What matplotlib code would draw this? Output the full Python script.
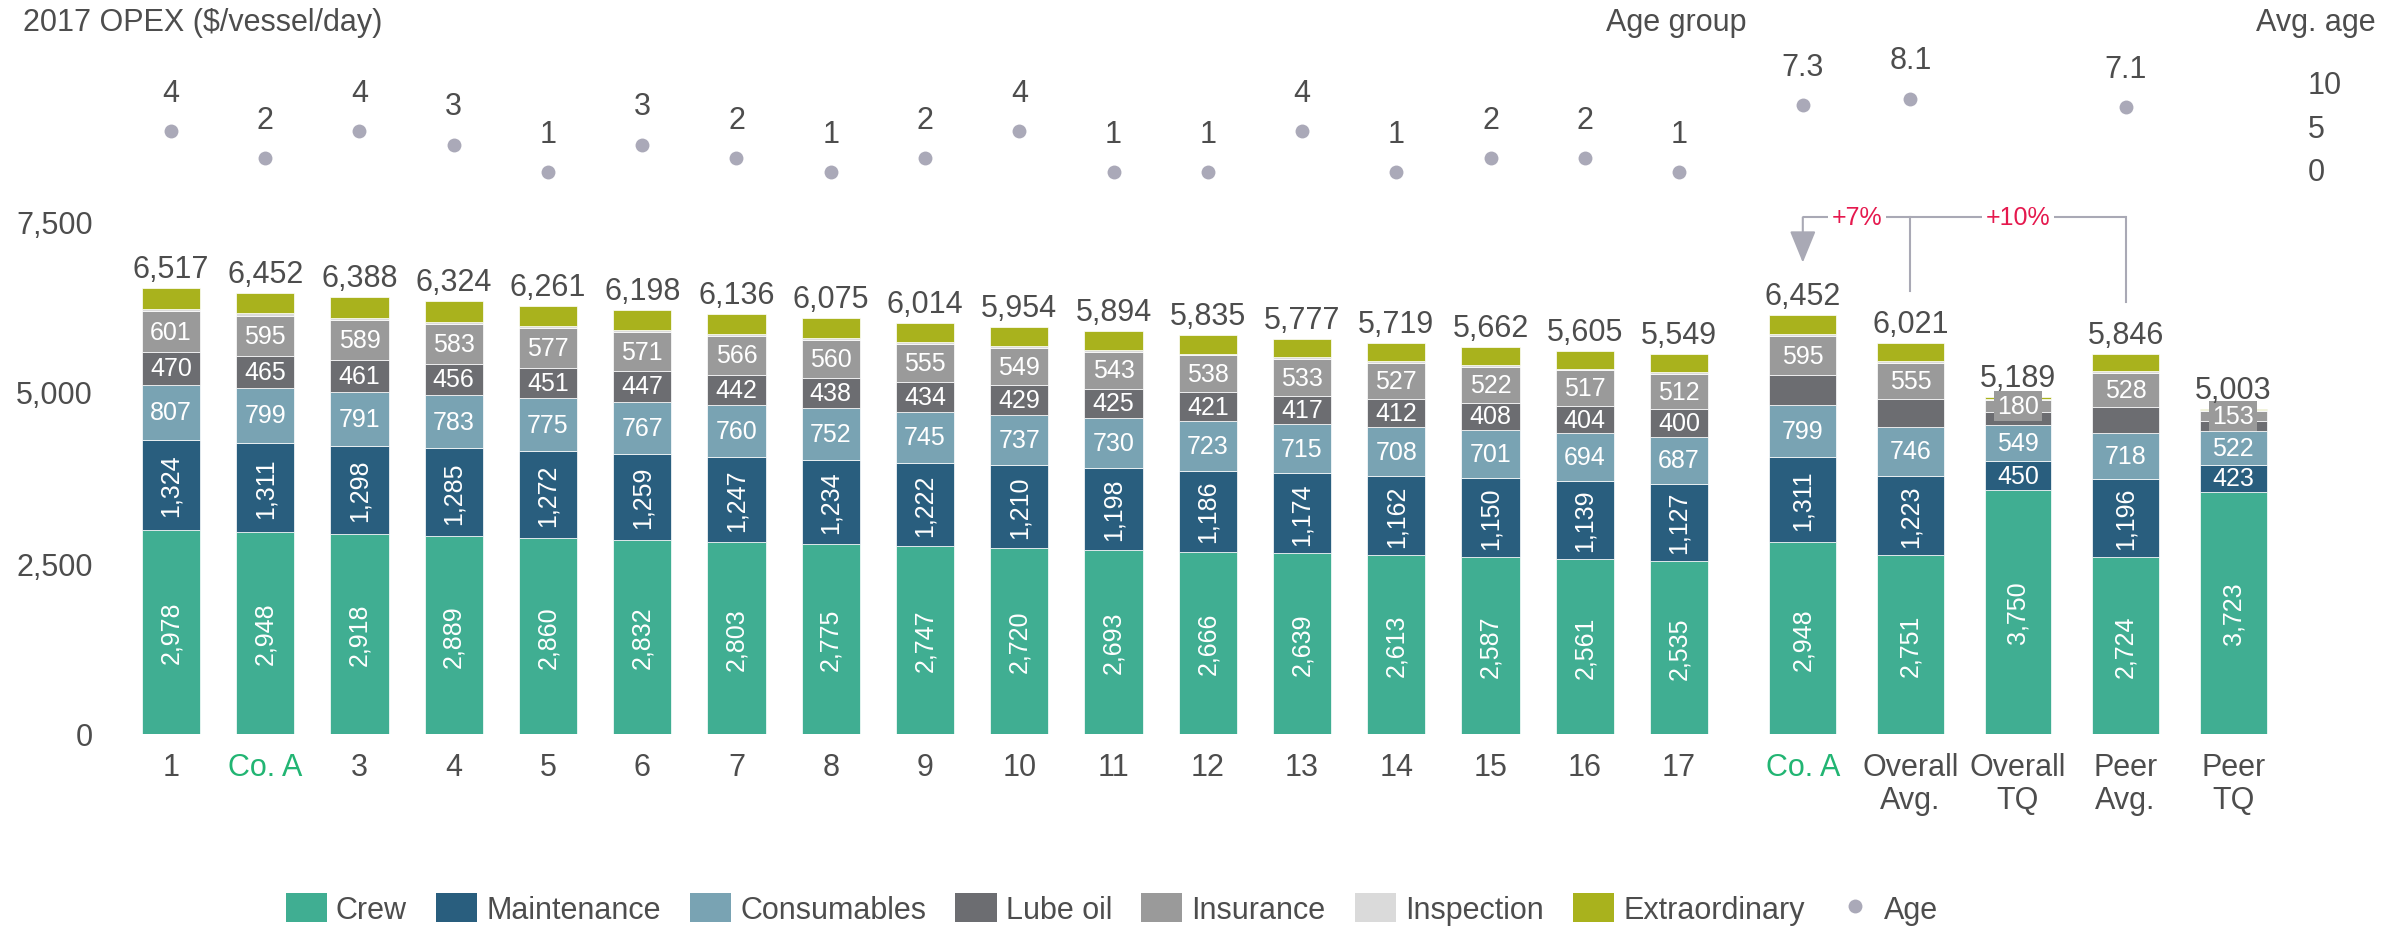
import numpy as np
import matplotlib
matplotlib.use("Agg")
import matplotlib.pyplot as plt
from matplotlib.patches import Patch
from matplotlib.lines import Line2D

plt.rcParams['font.family'] = ['Liberation Sans', 'DejaVu Sans']

# ---------------- data ----------------
left_labels = ['1', 'Co. A', '3', '4', '5', '6', '7', '8', '9', '10',
               '11', '12', '13', '14', '15', '16', '17']
left_crew = [2978, 2948, 2918, 2889, 2860, 2832, 2803, 2775, 2747, 2720,
             2693, 2666, 2639, 2613, 2587, 2561, 2535]
left_maint = [1324, 1311, 1298, 1285, 1272, 1259, 1247, 1234, 1222, 1210,
              1198, 1186, 1174, 1162, 1150, 1139, 1127]
left_cons = [807, 799, 791, 783, 775, 767, 760, 752, 745, 737,
             730, 723, 715, 708, 701, 694, 687]
left_lube = [470, 465, 461, 456, 451, 447, 442, 438, 434, 429,
             425, 421, 417, 412, 408, 404, 400]
left_ins = [601, 595, 589, 583, 577, 571, 566, 560, 555, 549,
            543, 538, 533, 527, 522, 517, 512]
left_insp = [30, 30, 29, 29, 29, 29, 28, 28, 28, 28,
             27, 27, 27, 27, 26, 26, 26]
left_extra = [307, 304, 302, 299, 297, 293, 290, 288, 283, 281,
              278, 274, 272, 270, 268, 264, 262]
left_total = [6517, 6452, 6388, 6324, 6261, 6198, 6136, 6075, 6014, 5954,
              5894, 5835, 5777, 5719, 5662, 5605, 5549]
left_age_group = [4, 2, 4, 3, 1, 3, 2, 1, 2, 4, 1, 1, 4, 1, 2, 2, 1]

right_labels = ['Co. A', 'Overall\nAvg.', 'Overall\nTQ', 'Peer\nAvg.', 'Peer\nTQ']
right_crew = [2948, 2751, 3750, 2724, 3723]
right_maint = [1311, 1223, 450, 1196, 423]
right_cons = [799, 746, 549, 718, 522]
right_lube = [465, 432, 210, 395, 150]
right_ins = [595, 555, 180, 528, 153]
right_insp = [30, 24, 15, 28, 12]
right_extra = [304, 290, 35, 257, 20]
right_total = [6452, 6021, 5189, 5846, 5003]
right_avg_age = [7.3, 8.1, np.nan, 7.1, np.nan]

series_names = ['Crew', 'Maintenance', 'Consumables', 'Lube oil',
                'Insurance', 'Inspection', 'Extraordinary']

# ---------------- style ----------------
colors = ['#40AE92', '#295E7E', '#79A3B3', '#6C6D71', '#9A9A9A', '#DADADA', '#A9B21D']
AGE_COLOR = '#AAA9B8'
TEXT = '#4D4D4D'
GREEN = '#22B573'
PINK = '#E5194E'
LINE = '#A9A9B5'
FS = 22
FS_IN = 18

W, H = 2397, 928
fig = plt.figure(figsize=(W / 100, H / 100), dpi=100)


def fx(px):
    return px / W


def fy(px):
    return 1 - px / H


BASE = 735
TOP = 100
PX_PER_UNIT_L = 0.0684
PX_PER_UNIT_R = 0.0650
BAR_W = 0.62

axL = fig.add_axes([fx(105), fy(BASE), (1745 - 105) / W, (BASE - TOP) / H])
axR = fig.add_axes([fx(1749), fy(BASE), (2287 - 1749) / W, (BASE - TOP) / H])
axL.set_xlim(-0.7, 16.7)
axL.set_ylim(0, (BASE - TOP) / PX_PER_UNIT_L)
axR.set_xlim(-0.5, 4.5)
axR.set_ylim(0, (BASE - TOP) / PX_PER_UNIT_R)

for ax in (axL, axR):
    for s in ax.spines.values():
        s.set_visible(False)
    ax.tick_params(axis='both', length=0, labelsize=FS, labelcolor=TEXT)
    ax.set_facecolor('none')


def draw_group(ax, series, totals, label_lube, boxed_small_ins):
    n = len(totals)
    x = np.arange(n)
    bottom = np.zeros(n)
    for k, (vals, col) in enumerate(zip(series, colors)):
        vals = np.asarray(vals, dtype=float)
        ax.bar(x, vals, BAR_W, bottom=bottom, color=col,
               edgecolor='white', linewidth=0.5)
        if k in (0, 1, 2, 4) or (k == 3 and label_lube):
            for i in range(n):
                v = vals[i]
                yc = bottom[i] + v / 2
                rot = 90 if v >= 1000 else 0
                kw = {}
                if k == 4 and boxed_small_ins and v < 300:
                    kw['bbox'] = dict(boxstyle='square,pad=0.12',
                                      fc=colors[4], ec='none')
                ax.text(i, yc, f'{int(v):,}', ha='center', va='center',
                        rotation=rot, color='white', fontsize=FS_IN,
                        rotation_mode='anchor', **kw)
        bottom += vals
    for i, t in enumerate(totals):
        ax.annotate(f'{t:,}', (i, t), xytext=(0, 8), textcoords='offset points',
                    ha='center', va='baseline', fontsize=FS, color=TEXT)
    return x


xl = draw_group(axL, [left_crew, left_maint, left_cons, left_lube, left_ins,
                      left_insp, left_extra], left_total, True, False)
xr = draw_group(axR, [right_crew, right_maint, right_cons, right_lube, right_ins,
                      right_insp, right_extra], right_total, False, True)

# x tick labels
axL.set_xticks(xl)
axL.set_xticklabels(left_labels)
axR.set_xticks(xr)
axR.set_xticklabels(right_labels, linespacing=1.12)
axL.tick_params(axis='x', pad=13)
axR.tick_params(axis='x', pad=13)
for ax, labs in ((axL, left_labels), (axR, right_labels)):
    for tl, lab in zip(ax.get_xticklabels(), labs):
        if lab == 'Co. A':
            tl.set_color(GREEN)

# y ticks
yt = [0, 2500, 5000, 7500]
axL.set_yticks(yt)
axL.set_yticklabels([f'{v:,}' for v in yt])
axL.tick_params(axis='y', pad=9)
axR.set_yticks([])

# ---------------- age groups (top left) ----------------
axAG = fig.add_axes([fx(105), fy(200), (1745 - 105) / W, 160 / H])
axAG.set_xlim(-0.7, 16.7)
axAG.set_ylim(1 + (173 - 200) / 13.7, 1 + (173 - 40) / 13.7)
axAG.axis('off')
axAG.scatter(xl, left_age_group, s=100, color=AGE_COLOR, linewidths=0, zorder=3)
for i, g in enumerate(left_age_group):
    axAG.annotate(str(g), (i, g), xytext=(0, 27.5), textcoords='offset points',
                  ha='center', va='center', fontsize=FS, color=TEXT)

# ---------------- average age (top right) ----------------
axAV = fig.add_axes([fx(1749), fy(200), (2287 - 1749) / W, 160 / H])
axAV.set_xlim(-0.5, 4.5)
axAV.set_ylim((170 - 200) / 8.7, (170 - 40) / 8.7)
for s in axAV.spines.values():
    s.set_visible(False)
axAV.set_facecolor('none')
axAV.set_xticks([])
axAV.yaxis.tick_right()
axAV.set_yticks([0, 5, 10])
axAV.tick_params(axis='y', length=0, pad=15, labelsize=FS, labelcolor=TEXT)
age_arr = np.asarray(right_avg_age, dtype=float)
mask = ~np.isnan(age_arr)
axAV.scatter(xr[mask], age_arr[mask], s=100, color=AGE_COLOR, linewidths=0, zorder=3)
for i in np.where(mask)[0]:
    axAV.annotate(f'{age_arr[i]:.1f}', (i, age_arr[i]), xytext=(0, 27.5),
                  textcoords='offset points', ha='center', va='center',
                  fontsize=FS, color=TEXT)

# ---------------- comparison brackets ----------------
BRACKET_Y = 7950
DROP_GAP = 800
i_co, i_avg, i_peer = 0, 1, 3
axR.plot([i_co, i_peer], [BRACKET_Y, BRACKET_Y], color=LINE, lw=1.5,
         clip_on=False, solid_capstyle='butt', zorder=5)
axR.plot([i_avg, i_avg], [BRACKET_Y, right_total[i_avg] + DROP_GAP],
         color=LINE, lw=1.5, clip_on=False, zorder=5)
axR.plot([i_peer, i_peer], [BRACKET_Y, right_total[i_peer] + DROP_GAP],
         color=LINE, lw=1.5, clip_on=False, zorder=5)
axR.annotate('', xy=(i_co, right_total[i_co] + DROP_GAP), xytext=(i_co, BRACKET_Y),
             arrowprops=dict(arrowstyle='-|>,head_length=1.1,head_width=0.45',
                             color=LINE, lw=1.5, shrinkA=0, shrinkB=0,
                             mutation_scale=18),
             annotation_clip=False, zorder=5)
pct_avg = round((right_total[i_co] / right_total[i_avg] - 1) * 100)
pct_peer = round((right_total[i_co] / right_total[i_peer] - 1) * 100)
axR.text((i_co + i_avg) / 2, BRACKET_Y, f'+{pct_avg}%', ha='center', va='center',
         fontsize=FS_IN, color=PINK, clip_on=False, zorder=6,
         bbox=dict(boxstyle='square,pad=0.15', fc='white', ec='none'))
axR.text((i_avg + i_peer) / 2, BRACKET_Y, f'+{pct_peer}%', ha='center', va='center',
         fontsize=FS_IN, color=PINK, clip_on=False, zorder=6,
         bbox=dict(boxstyle='square,pad=0.15', fc='white', ec='none'))

# ---------------- headers ----------------
fig.text(fx(23), fy(23), '2017 OPEX ($/vessel/day)', ha='left', va='center',
         fontsize=FS, color=TEXT)
fig.text(fx(1747), fy(23), 'Age group', ha='right', va='center',
         fontsize=FS, color=TEXT)
fig.text(fx(2376), fy(23), 'Avg. age', ha='right', va='center',
         fontsize=FS, color=TEXT)

# ---------------- legend ----------------
handles = [Patch(facecolor=c, edgecolor='none') for c in colors]
handles.append(Line2D([], [], marker='o', linestyle='none', color=AGE_COLOR,
                      markersize=10, markeredgewidth=0))
fig.legend(handles, series_names + ['Age'], loc='center',
           bbox_to_anchor=(fx(1112), fy(910)), ncol=8, frameon=False,
           fontsize=FS, labelcolor=TEXT, handlelength=1.35, handleheight=1.1,
           handletextpad=0.3, columnspacing=0.95, borderpad=0, borderaxespad=0)

fig.savefig('out.png', dpi=100)
